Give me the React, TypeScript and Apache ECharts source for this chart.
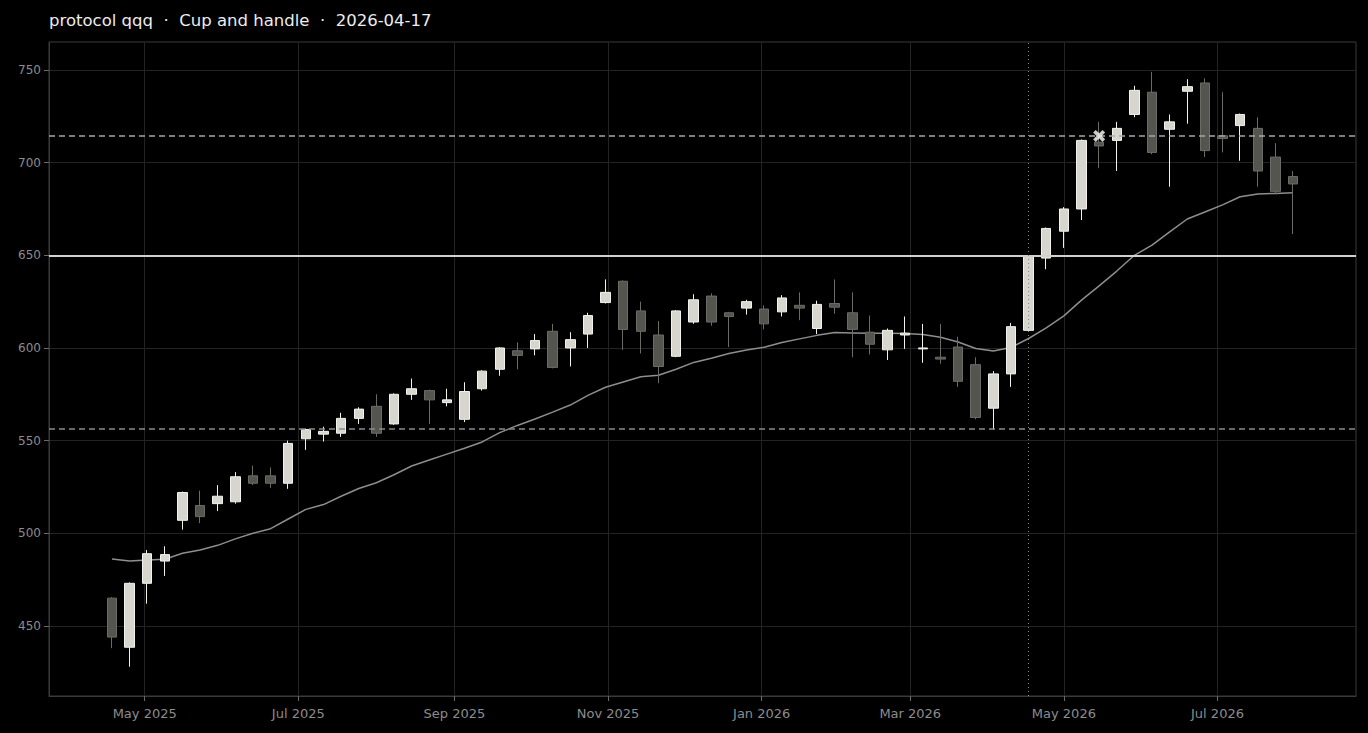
import React, { useEffect, useRef } from "react";
import * as echarts from "echarts";

const TITLE = "protocol qqq  ·  Cup and handle  ·  2026-04-17";

const dates = [
  "2025-04-18", "2025-04-25", "2025-05-02", "2025-05-09", "2025-05-16", "2025-05-23", "2025-05-30",
  "2025-06-06", "2025-06-13", "2025-06-20", "2025-06-27", "2025-07-04", "2025-07-11", "2025-07-18",
  "2025-07-25", "2025-08-01", "2025-08-08", "2025-08-15", "2025-08-22", "2025-08-29", "2025-09-05",
  "2025-09-12", "2025-09-19", "2025-09-26", "2025-10-03", "2025-10-10", "2025-10-17", "2025-10-24",
  "2025-10-31", "2025-11-07", "2025-11-14", "2025-11-21", "2025-11-28", "2025-12-05", "2025-12-12",
  "2025-12-19", "2025-12-26", "2026-01-02", "2026-01-09", "2026-01-16", "2026-01-23", "2026-01-30",
  "2026-02-06", "2026-02-13", "2026-02-20", "2026-02-27", "2026-03-06", "2026-03-13", "2026-03-20",
  "2026-03-27", "2026-04-03", "2026-04-10", "2026-04-17", "2026-04-24", "2026-05-01", "2026-05-08",
  "2026-05-15", "2026-05-22", "2026-05-29", "2026-06-05", "2026-06-12", "2026-06-19", "2026-06-26",
  "2026-07-03", "2026-07-10", "2026-07-17", "2026-07-24", "2026-07-31",
];

const opens = [
  465, 438.5, 473, 485, 507, 515, 516, 517, 531, 531, 527, 551, 553.5, 554, 562, 568.5, 559, 575,
  577, 570.5, 561.5, 578, 588.5, 598.5, 599.5, 609, 600, 607.5, 624.5, 636, 620, 607, 595.5, 614,
  628, 619, 621.5, 621, 619.5, 623, 610.5, 624, 619, 608.5, 599, 607, 599.5, 595, 600.5, 591, 567.5,
  586, 609.5, 648.5, 663, 675, 711, 712, 726, 738, 718, 738.5, 743, 714.5, 720, 718.5, 703, 692.5,
];
const closes = [
  444, 473, 489, 488.5, 522, 509, 520, 530.5, 527, 527, 548.5, 556, 555, 562, 567, 554, 575, 578,
  572, 572, 576.5, 587.5, 600, 596, 604, 589.5, 604.5, 617.5, 630, 610, 609, 590, 620, 626, 614,
  617, 625, 613, 627, 621.5, 623.5, 622, 610, 602, 609.5, 608, 600, 594, 582, 562.5, 586, 611.5,
  649.5, 664.5, 675, 712, 709, 718.5, 739, 705.5, 722, 741, 706.5, 713, 726, 695.5, 684.5, 688.5,
];
const lows = [
  438, 428, 462, 477, 502, 505.5, 512, 516, 526, 524.5, 524, 545, 549.5, 552, 559, 552, 558.5, 572,
  559, 568.5, 560, 577, 585, 588.5, 596, 589, 590, 600, 624, 599, 597, 581, 595, 613, 612, 600.5,
  618, 610, 617, 615, 607.5, 618.5, 595, 596.5, 593.5, 599.5, 592, 591.5, 579, 561.5, 556, 579,
  609, 642.5, 654, 669, 697, 695.5, 724.5, 704.5, 687, 721, 703, 705.5, 701, 687, 683, 661.5,
];
const highs = [
  465.5, 473.5, 491, 493, 522.5, 523, 526, 533, 536.5, 535.5, 550, 556.5, 557.5, 565, 568, 575,
  575.5, 583.5, 577.5, 578, 581.5, 588, 600.5, 603, 607.5, 613, 608.5, 619, 637, 636.5, 625, 614.5,
  620.5, 629, 629.5, 619.5, 626, 623, 628.5, 630, 625.5, 637, 630, 617.5, 610.5, 617, 613, 613,
  606, 595, 587.5, 613.5, 650, 665, 676, 712.5, 722, 722, 741.5, 749, 726, 745, 745.5, 738, 726.5,
  724.5, 710.5, 695.5,
];
const maValues = [
  486.1, 485, 485.6, 486, 489.2, 491, 493.5, 497, 500, 502.5, 507.7, 512.9, 515.5, 520, 524.2,
  527.3, 531.6, 536.3, 539.5, 542.7, 545.9, 549.3, 554.3, 558.2, 561.7, 565.4, 569.2, 574.4, 578.8,
  581.6, 584.5, 585.3, 588.5, 592.2, 594.4, 597, 598.9, 600.4, 603, 604.9, 606.8, 608.3, 608.1,
  607.9, 607.9, 607.8, 607.3, 605.8, 603.2, 599.7, 598.4, 600.3, 605.1, 610.8, 617.3, 625.8, 633.5,
  641.5, 650, 655.5, 662.6, 669.6, 673.4, 677.2, 681.6, 683.1, 683.4, 683.8,
];

const xTickDates = [
  "2025-05-01", "2025-07-01", "2025-09-01", "2025-11-01",
  "2026-01-01", "2026-03-01", "2026-05-01", "2026-07-01",
];
const yTicks = [450, 500, 550, 600, 650, 700, 750];
const MONTHS = ["Jan", "Feb", "Mar", "Apr", "May", "Jun", "Jul", "Aug", "Sep", "Oct", "Nov", "Dec"];

const TARGET_LEVEL = 650;
const RESIST_LEVEL = 714.4;
const SUPPORT_LEVEL = 556.3;
const SIGNAL_DATE = "2026-04-17";
const BREAKOUT_DATE = "2026-05-15";
const BREAKOUT_VALUE = 714.4;
const X_MIN = "2025-03-24";
const X_MAX = "2026-08-25";
const Y_MIN = 412.2;
const Y_MAX = 765.1;

function ts(s: string): number {
  const [y, m, d] = s.split("-").map(Number);
  return new Date(y, m - 1, d).getTime();
}

const FONT = "DejaVu Sans";
const X_SYMBOL = "path://M2.2,0 L5,2.8 L7.8,0 L10,2.2 L7.2,5 L10,7.8 L7.8,10 L5,7.2 L2.2,10 L0,7.8 L2.8,5 L0,2.2 Z";

export default function App() {
  const ref = useRef<HTMLDivElement>(null);

  useEffect(() => {
    document.body.style.margin = "0";
    document.body.style.background = "#000";
    const chart = echarts.init(ref.current!, null, { renderer: "svg" });
    const xTicks = xTickDates.map(ts);
    const candleData = dates.map((d, i) => [ts(d), opens[i], closes[i], lows[i], highs[i]]);
    const maData = dates.map((d, i) => [ts(d), maValues[i]]);

    chart.setOption({
      animation: false,
      backgroundColor: "#000000",
      textStyle: { fontFamily: FONT },
      title: {
        text: TITLE,
        left: 49,
        top: 12,
        padding: 0,
        textStyle: { color: "#ededed", fontSize: 16.5, fontWeight: "normal", fontFamily: FONT },
      },
      grid: {
        left: 49,
        right: 12,
        top: 42,
        bottom: 37,
        show: true,
        borderColor: "#3a3a3a",
        borderWidth: 1,
        outerBoundsMode: "none",
      },
      xAxis: {
        type: "value",
        min: ts(X_MIN),
        max: ts(X_MAX),
        axisLine: { show: true, lineStyle: { color: "#3a3a3a" } },
        axisTick: { show: true, customValues: xTicks, length: 5, lineStyle: { color: "#6a6a6a" } },
        axisLabel: {
          customValues: xTicks,
          color: "#8c8c8c",
          fontSize: 13,
          fontFamily: FONT,
          margin: 11,
          formatter: (v: number) => {
            const d = new Date(v);
            return MONTHS[d.getMonth()] + " " + d.getFullYear();
          },
        },
        splitLine: { show: true, lineStyle: { color: "#232323", width: 1 } },
      },
      yAxis: {
        type: "value",
        min: Y_MIN,
        max: Y_MAX,
        axisLine: { show: true, lineStyle: { color: "#3a3a3a" } },
        axisTick: { show: true, customValues: yTicks, length: 5, lineStyle: { color: "#6a6a6a" } },
        axisLabel: { customValues: yTicks, color: "#8c8c8c", fontSize: 12, fontFamily: FONT, margin: 8 },
        splitLine: { show: true, lineStyle: { color: "#232323", width: 1 } },
      },
      series: [
        {
          type: "line",
          data: maData,
          showSymbol: false,
          symbol: "none",
          z: 1,
          lineStyle: { color: "#8e8e8e", width: 1.5 },
          silent: true,
        },
        {
          type: "candlestick",
          data: candleData,
          encode: { x: 0, y: [1, 2, 3, 4] },
          barWidth: 10,
          z: 2,
          itemStyle: {
            color: "#d6d6ce",
            color0: "#55554f",
            borderColor: "#f2f2ec",
            borderColor0: "#6c6c66",
            borderWidth: 1,
          },
          markLine: {
            silent: true,
            symbol: ["none", "none"],
            label: { show: false },
            data: [
              { yAxis: TARGET_LEVEL, lineStyle: { color: "#d2d2ca", width: 2, type: "solid" } },
              { yAxis: RESIST_LEVEL, lineStyle: { color: "#a8a8a8", width: 1.5, type: [6, 4] } },
              { yAxis: SUPPORT_LEVEL, lineStyle: { color: "#8a8a8a", width: 1.5, type: [6, 4] } },
              { xAxis: ts(SIGNAL_DATE), lineStyle: { color: "#8a8a8a", width: 1, type: [1, 3] } },
            ],
          },
        },
        {
          type: "scatter",
          data: [[ts(BREAKOUT_DATE), BREAKOUT_VALUE]],
          symbol: X_SYMBOL,
          symbolSize: 12,
          z: 5,
          itemStyle: { color: "#ffffff" },
          silent: true,
        },
      ],
    });
    return () => chart.dispose();
  }, []);

  return (
    <div
      ref={ref}
      style={{ position: "fixed", left: 0, top: 0, width: 1368, height: 733, background: "#000" }}
    />
  );
}
